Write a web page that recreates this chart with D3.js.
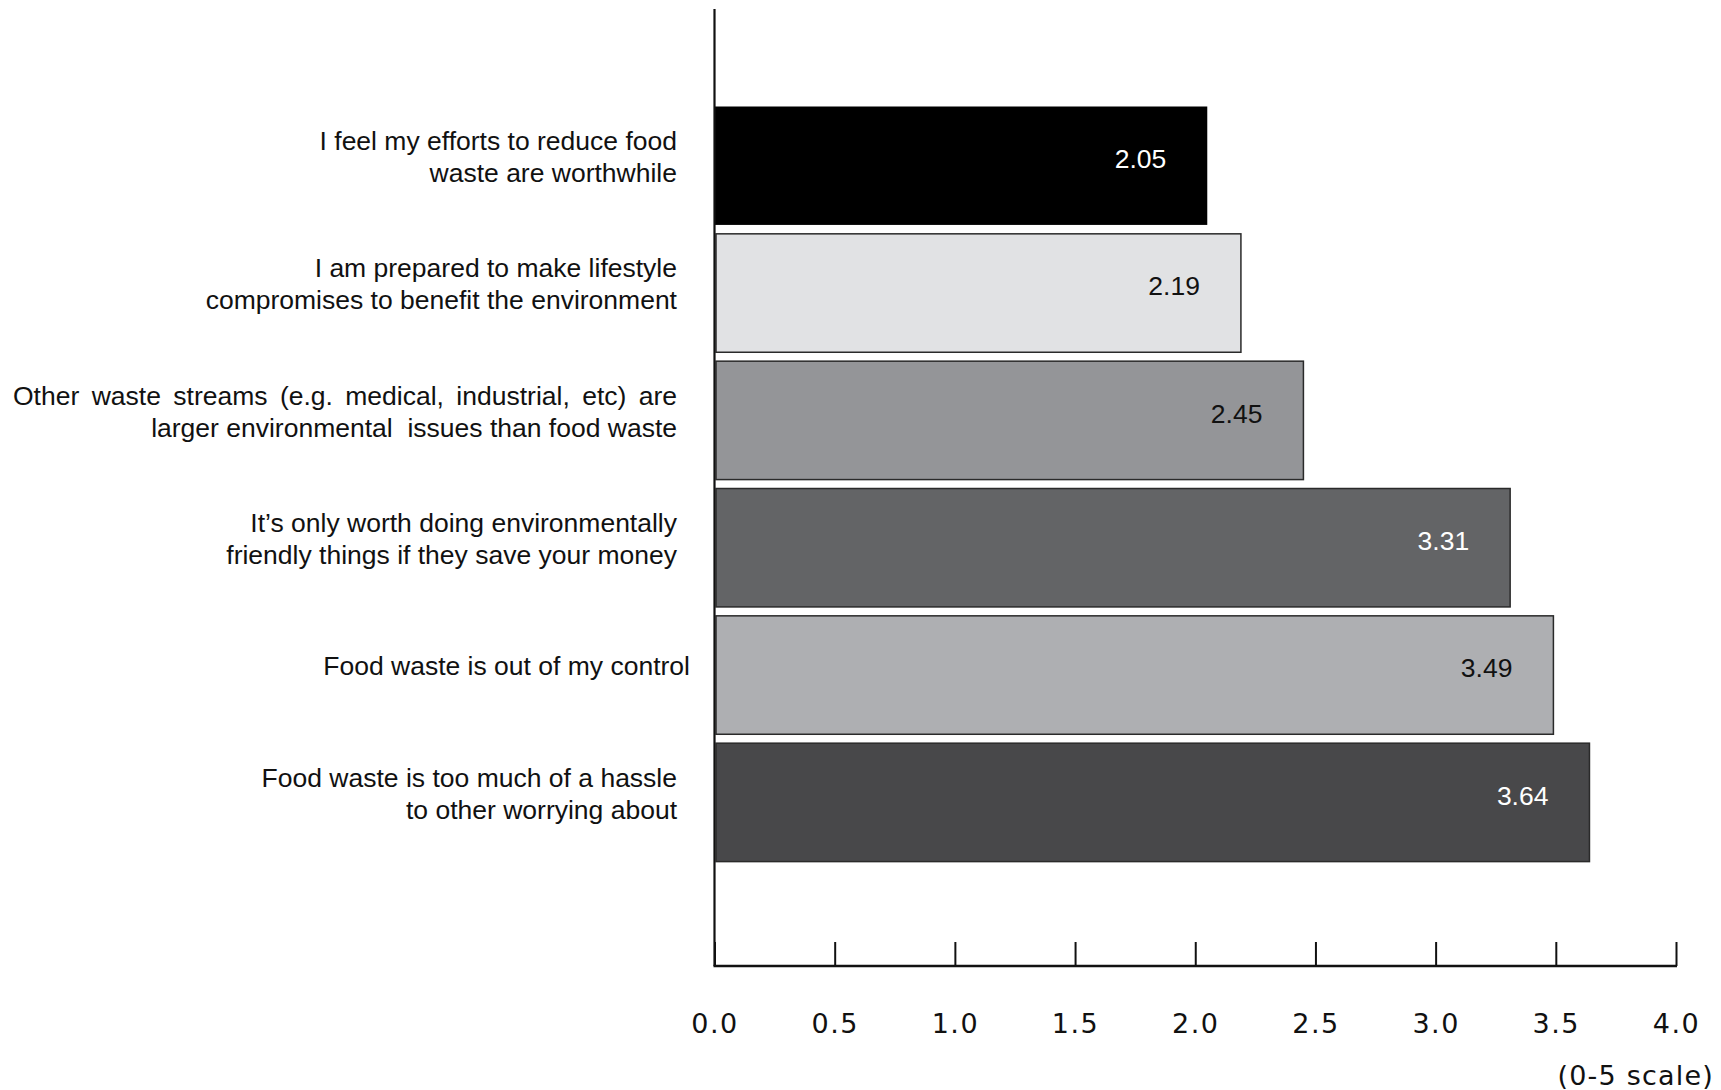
<!DOCTYPE html>
<html>
<head>
<meta charset="utf-8">
<script src="https://cdn.jsdelivr.net/npm/d3@7"></script>
<style>
  html, body { margin: 0; padding: 0; background: #ffffff; }
  svg { display: block; }
</style>
</head>
<body>
<svg id="chart" width="1721" height="1090"></svg>
<script>
// ---- data ----
const categories = [
  ["I feel my efforts to reduce food", "waste are worthwhile"],
  ["I am prepared to make lifestyle", "compromises to benefit the environment"],
  ["Other waste streams (e.g. medical, industrial, etc) are", "larger environmental  issues than food waste"],
  ["It\u2019s only worth doing environmentally", "friendly things if they save your money"],
  ["Food waste is out of my control"],
  ["Food waste is too much of a hassle", "to other worrying about"]
];
const values = [2.05, 2.19, 2.45, 3.31, 3.49, 3.64];
const barColors = ["#000000", "#e1e2e4", "#949598", "#636466", "#aeafb2", "#48484a"];
const labelColors = ["#ffffff", "#111111", "#111111", "#ffffff", "#111111", "#ffffff"];
const tickValues = [0, 0.5, 1.0, 1.5, 2.0, 2.5, 3.0, 3.5, 4.0];
const axisNote = "(0-5 scale)";

// ---- layout ----
const svg = d3.select("#chart");
const x0 = 714.5, x1 = 1676;
const yTop = 106.5, yBottom = 861.6;
const baseY = 966;
const justifiedLine = [2, 0]; // category 3, first line is set justified

const x = d3.scaleLinear().domain([0, 4]).range([x0, x1]);
const y = d3.scaleBand().domain(d3.range(values.length))
  .range([yTop, yBottom]).paddingInner(0.07).paddingOuter(0);

// bars
svg.append("g").selectAll("rect").data(values).join("rect")
  .attr("x", (d, i) => i === 0 ? x(0) : x(0) + 1.5)
  .attr("y", (d, i) => y(i))
  .attr("width", (d, i) => x(d) - x(0) - (i === 0 ? 0 : 1.5))
  .attr("height", y.bandwidth())
  .attr("fill", (d, i) => barColors[i])
  .attr("stroke", (d, i) => i === 0 ? "none" : "#2a2a2a")
  .attr("stroke-width", 1.5);

// value labels
svg.append("g").selectAll("text").data(values).join("text")
  .attr("x", d => x(d) - 41)
  .attr("y", (d, i) => y(i) + y.bandwidth() / 2 - 7)
  .attr("dy", "0.35em")
  .attr("text-anchor", "end")
  .attr("font-family", "'Liberation Sans', Arial, Helvetica, sans-serif")
  .attr("font-size", 26.5)
  .attr("fill", (d, i) => labelColors[i])
  .text(d => d.toFixed(2));

// vertical axis line
svg.append("line")
  .attr("x1", x(0)).attr("x2", x(0))
  .attr("y1", 9).attr("y2", baseY)
  .attr("stroke", "#111").attr("stroke-width", 2.2);

// bottom axis
const axis = d3.axisBottom(x).tickValues(tickValues).tickSize(-24).tickPadding(0)
  .tickFormat(d3.format(".1f"));
const gAxis = svg.append("g").attr("transform", `translate(0,${baseY})`).call(axis);
gAxis.select(".domain").remove();
gAxis.selectAll(".tick line").attr("stroke", "#111").attr("stroke-width", 2);
gAxis.selectAll(".tick text")
  .attr("y", 58).attr("dy", "0.35em")
  .attr("font-family", "'DejaVu Sans', sans-serif")
  .attr("font-size", 27)
  .attr("letter-spacing", 1.5)
  .attr("fill", "#111");
svg.append("line")
  .attr("x1", x(0) - 1).attr("x2", x(4) + 1)
  .attr("y1", baseY).attr("y2", baseY)
  .attr("stroke", "#111").attr("stroke-width", 2.6);

svg.append("text")
  .attr("x", 1714).attr("y", 1076).attr("dy", "0.35em")
  .attr("text-anchor", "end")
  .attr("font-family", "'DejaVu Sans', sans-serif")
  .attr("font-size", 27)
  .attr("letter-spacing", 1.2)
  .attr("fill", "#111")
  .text(axisNote);

// category labels
const labelRight = 677;
const labelLeftJustified = 13;
const lineH = 32;
const gLab = svg.append("g");
categories.forEach((lines, i) => {
  const cy = y(i) + y.bandwidth() / 2 - 9;
  const n = lines.length;
  lines.forEach((ln, j) => {
    const t = gLab.append("text")
      .attr("x", n === 1 ? labelRight + 13 : labelRight)
      .attr("y", cy + (j - (n - 1) / 2) * lineH)
      .attr("dy", "0.35em")
      .attr("text-anchor", "end")
      .attr("font-family", "'Liberation Sans', Arial, Helvetica, sans-serif")
      .attr("font-size", 26.5)
      .attr("fill", "#111")
      .style("white-space", "pre")
      .text(ln);
    if (i === justifiedLine[0] && j === justifiedLine[1]) {
      const natural = t.node().getComputedTextLength();
      const gaps = ln.split(" ").length - 1;
      const target = labelRight - labelLeftJustified;
      t.attr("word-spacing", Math.max(0, (target - natural) / gaps));
    }
  });
});
</script>
</body>
</html>
